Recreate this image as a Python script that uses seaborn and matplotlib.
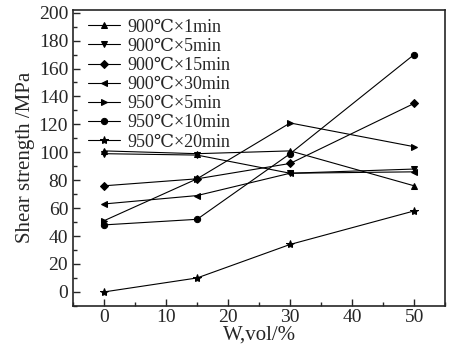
import seaborn as sns
import pandas as pd
import matplotlib
matplotlib.use("Agg")
import matplotlib.pyplot as plt
from matplotlib.ticker import MultipleLocator

# volume fraction of W, %
w_vol = [0, 15, 30, 50]

labels = ["900℃×1min", "900℃×5min", "900℃×15min", "900℃×30min",
          "950℃×5min", "950℃×10min", "950℃×20min"]
markers = ["^", "v", "D", "<", ">", "o", "*"]

s_900_1 = [101, 99, 101, 76]
s_900_5 = [99, 98, 85, 88]
s_900_15 = [76, 81, 92, 135]
s_900_30 = [63, 69, 85, 86]
s_950_5 = [51, 81, 121, 104]
s_950_10 = [48, 52, 99, 170]
s_950_20 = [0, 10, 34, 58]

series = [s_900_1, s_900_5, s_900_15, s_900_30, s_950_5, s_950_10, s_950_20]

sns.set_style("ticks")
plt.rcParams["font.family"] = ["Liberation Serif", "DejaVu Serif"]
plt.rcParams["xtick.direction"] = "in"
plt.rcParams["ytick.direction"] = "in"

fig = plt.figure(figsize=(4.51, 3.52), dpi=100)
ax = fig.add_axes([0.162, 0.131, 0.825, 0.841])

for lab, mk, vals in zip(labels, markers, series):
    df = pd.DataFrame({"W": w_vol, "S": vals})
    ms = 6 if mk == "*" else 4.5
    if mk == "D":
        ms = 3.8
    sns.lineplot(data=df, x="W", y="S", ax=ax, color="black", marker=mk,
                 markersize=ms, markeredgecolor="black", linewidth=0.8,
                 label=lab)

ax.set_xlim(-5, 55)
ax.set_ylim(-10, 202)
ax.xaxis.set_major_locator(MultipleLocator(10))
ax.xaxis.set_minor_locator(MultipleLocator(5))
ax.yaxis.set_major_locator(MultipleLocator(20))
ax.yaxis.set_minor_locator(MultipleLocator(10))
ax.tick_params(which="major", length=5, width=1, labelsize=14)
ax.tick_params(which="minor", length=3, width=1)
ax.tick_params(axis="x", pad=2)
ax.tick_params(top=False, right=False)
for sp in ax.spines.values():
    sp.set_linewidth(1.2)

ax.set_xlabel("W,vol/%", fontsize=15, labelpad=0)
ax.set_ylabel("Shear strength /MPa", fontsize=15, labelpad=3)

ax.legend(loc="upper left", frameon=False, fontsize=13, handlelength=1.8,
          labelspacing=0.12, borderaxespad=0.1, handletextpad=0.4,
          borderpad=0.3, bbox_to_anchor=(0.02, 0.995))

fig.savefig("out.png", dpi=100)
